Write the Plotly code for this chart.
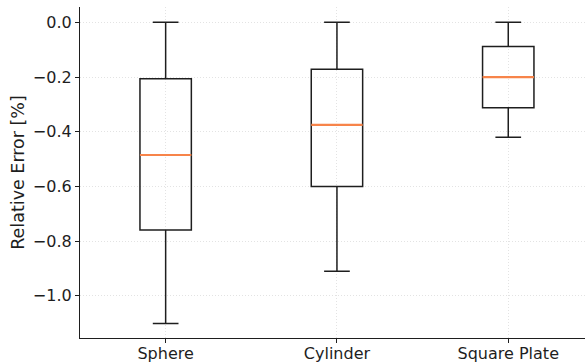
import plotly.graph_objects as go

# Summary statistics of the relative error per geometry
categories = ["Sphere", "Cylinder", "Square Plate"]
upper_whisker = [0.0, 0.0, 0.0]
q3 = [-0.206, -0.172, -0.088]
median = [-0.485, -0.375, -0.200]
q1 = [-0.759, -0.600, -0.312]
lower_whisker = [-1.101, -0.910, -0.420]

y_tick_values = [0.0, -0.2, -0.4, -0.6, -0.8, -1.0]
y_tick_labels = ["0.0", "\u22120.2", "\u22120.4", "\u22120.6", "\u22120.8", "\u22121.0"]

positions = [1, 2, 3]
box_width = 0.3
ink = "#1e1e1e"
median_color = "#f7844a"
grid_color = "#e3e3e3"
font = dict(family="DejaVu Sans", size=16, color=ink)

fig = go.Figure()
fig.add_trace(go.Box(
    x=positions,
    q1=q1,
    median=median,
    q3=q3,
    lowerfence=lower_whisker,
    upperfence=upper_whisker,
    width=box_width,
    whiskerwidth=0.5,
    fillcolor="rgba(255,255,255,0)",
    line=dict(color=ink, width=1.5),
    boxpoints=False,
    hoverinfo="skip",
    showlegend=False,
))

# Orange median lines drawn over each box
mx, my = [], []
for p, m in zip(positions, median):
    mx += [p - box_width / 2, p + box_width / 2, None]
    my += [m, m, None]
fig.add_trace(go.Scatter(
    x=mx, y=my, mode="lines",
    line=dict(color=median_color, width=2.2),
    hoverinfo="skip", showlegend=False,
))

fig.update_layout(
    width=585, height=363,
    margin=dict(l=80, r=0, t=7, b=25),
    paper_bgcolor="white", plot_bgcolor="white",
    font=font,
)
fig.update_xaxes(
    range=[0.5, 3.448],
    tickvals=positions, ticktext=categories,
    showline=True, linecolor=ink, linewidth=1.2, mirror=False,
    ticks="outside", ticklen=4, tickcolor=ink, tickwidth=1,
    ticklabelstandoff=-3,
    showgrid=True, gridcolor=grid_color, griddash="1px,2px", gridwidth=1,
    zeroline=False,
)
fig.update_yaxes(
    range=[-1.154, 0.056],
    tickvals=y_tick_values, ticktext=y_tick_labels,
    title=dict(text="Relative Error [%]", standoff=3,
               font=dict(family="DejaVu Sans", size=17.5, color=ink)),
    showline=True, linecolor=ink, linewidth=1.2, mirror=False,
    ticks="outside", ticklen=4, tickcolor=ink, tickwidth=1,
    showgrid=True, gridcolor=grid_color, griddash="1px,2px", gridwidth=1,
    zeroline=False,
)

fig.write_html("out.html")
